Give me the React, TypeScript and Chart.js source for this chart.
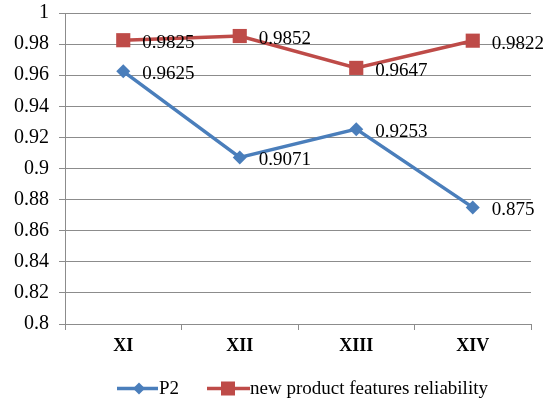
import React, { useEffect, useRef } from "react";
import { Chart, registerables } from "chart.js";

Chart.register(...registerables);

const categories = ["XI", "XII", "XIII", "XIV"];
const p2Values = [0.9625, 0.9071, 0.9253, 0.875];
const reliabilityValues = [0.9825, 0.9852, 0.9647, 0.9822];
const seriesNames = ["P2", "new product features reliability"];
const valueLabelsP2 = ["0.9625", "0.9071", "0.9253", "0.875"];
const valueLabelsRel = ["0.9825", "0.9852", "0.9647", "0.9822"];

const BLUE = "#4A7EBB";
const RED = "#BE4B48";
const GRID = "#8C8C8C";
const SERIF = "'Liberation Serif', 'Times New Roman', serif";

const dataLabelPlugin = {
  id: "dataLabels",
  afterDatasetsDraw(chart: any) {
    const ctx = chart.ctx;
    const labelSets = [valueLabelsP2, valueLabelsRel];
    ctx.save();
    ctx.font = `19px ${SERIF}`;
    ctx.fillStyle = "#000";
    ctx.textAlign = "left";
    ctx.textBaseline = "middle";
    chart.data.datasets.forEach((_ds: any, di: number) => {
      const meta = chart.getDatasetMeta(di);
      meta.data.forEach((pt: any, i: number) => {
        ctx.fillText(labelSets[di][i], pt.x + 19, pt.y + 3);
      });
    });
    ctx.restore();
  },
};

const legendPlugin = {
  id: "customLegend",
  afterDraw(chart: any) {
    const ctx = chart.ctx;
    const y = 388.5;
    ctx.save();
    ctx.lineWidth = 3.5;
    // P2
    ctx.strokeStyle = BLUE;
    ctx.beginPath();
    ctx.moveTo(117, y);
    ctx.lineTo(158, y);
    ctx.stroke();
    ctx.fillStyle = BLUE;
    ctx.beginPath();
    ctx.moveTo(139 - 6, y);
    ctx.lineTo(139, y - 6);
    ctx.lineTo(139 + 6, y);
    ctx.lineTo(139, y + 6);
    ctx.closePath();
    ctx.fill();
    // Reliability
    ctx.strokeStyle = RED;
    ctx.beginPath();
    ctx.moveTo(207, y);
    ctx.lineTo(250, y);
    ctx.stroke();
    ctx.fillStyle = RED;
    ctx.fillRect(228 - 7, y - 7, 14, 14);
    ctx.font = `19px ${SERIF}`;
    ctx.fillStyle = "#000";
    ctx.textAlign = "left";
    ctx.textBaseline = "middle";
    ctx.fillText(seriesNames[0], 159, y + 1);
    ctx.fillText(seriesNames[1], 250, y + 1);
    ctx.restore();
  },
};

export default function App() {
  const ref = useRef<HTMLCanvasElement | null>(null);
  useEffect(() => {
    if (!ref.current) return;
    const chart = new Chart(ref.current, {
      type: "line",
      data: {
        labels: categories,
        datasets: [
          {
            label: seriesNames[0],
            data: p2Values,
            borderColor: BLUE,
            backgroundColor: BLUE,
            borderWidth: 3.5,
            pointStyle: "rectRot",
            pointRadius: 7,
            pointBorderWidth: 0,
            tension: 0,
          },
          {
            label: seriesNames[1],
            data: reliabilityValues,
            borderColor: RED,
            backgroundColor: RED,
            borderWidth: 3.5,
            pointStyle: "rect",
            pointRadius: 10,
            pointBorderWidth: 0,
            tension: 0,
          },
        ],
      },
      options: {
        responsive: false,
        animation: false,
        events: [],
        layout: { padding: { top: 13, right: 16, bottom: 40, left: 0 } },
        plugins: {
          legend: { display: false },
          tooltip: { enabled: false },
        },
        scales: {
          x: {
            offset: true,
            grid: {
              display: true,
              drawOnChartArea: false,
              drawTicks: true,
              tickLength: 6,
              offset: true,
              color: GRID,
            },
            border: { display: true, color: GRID, width: 1 },
            ticks: {
              color: "#000",
              padding: 6,
              font: { family: SERIF, size: 18, weight: "bold" },
            },
            afterFit(scale: any) {
              scale.height = 38;
              scale.paddingLeft = 0;
              scale.paddingRight = 0;
            },
          },
          y: {
            min: 0.8,
            max: 1,
            grid: { color: GRID, tickLength: 6, drawTicks: true },
            border: { display: true, color: GRID, width: 1 },
            ticks: {
              stepSize: 0.02,
              color: "#000",
              padding: 10,
              font: { family: SERIF, size: 20 },
              callback: (v: any) => String(Number(Number(v).toFixed(2))),
            },
            afterFit(scale: any) {
              scale.width = 65;
              scale.paddingTop = 0;
              scale.paddingBottom = 0;
            },
          },
        },
      },
      plugins: [dataLabelPlugin, legendPlugin],
    });
    return () => chart.destroy();
  }, []);
  return (
    <div style={{ position: "absolute", left: 0, top: 0, width: 547, height: 402, background: "#fff" }}>
      <canvas ref={ref} width={547} height={402} style={{ display: "block" }} />
    </div>
  );
}
